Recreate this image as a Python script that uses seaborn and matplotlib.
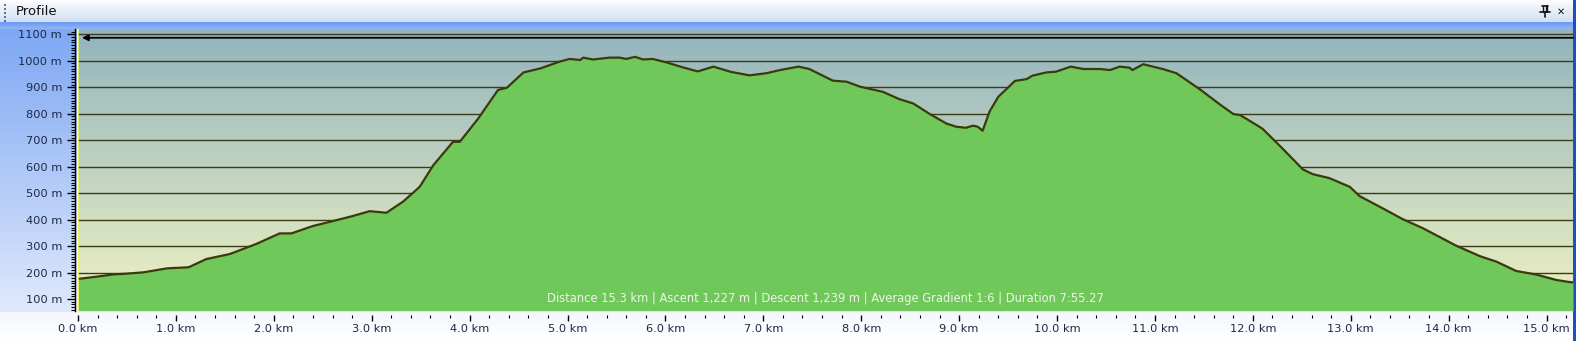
import numpy as np
import pandas as pd
import matplotlib
matplotlib.use('Agg')
import matplotlib.pyplot as plt
import seaborn as sns
from matplotlib.colors import to_rgb
from matplotlib.ticker import MultipleLocator, FixedLocator, FuncFormatter

# ---------------- data ----------------
distance_km = [0.00, 0.20, 0.36, 0.50, 0.67, 0.91, 1.13, 1.31, 1.55, 1.82, 2.06, 2.18,
               2.40, 2.64, 2.81, 2.98, 3.15, 3.32, 3.49, 3.63, 3.83, 3.90, 4.09, 4.29,
               4.38, 4.55, 4.72, 4.92, 5.02, 5.13, 5.16, 5.26, 5.43, 5.53, 5.60, 5.69,
               5.77, 5.87, 6.01, 6.18, 6.33, 6.49, 6.67, 6.86, 7.03, 7.17, 7.36, 7.47,
               7.71, 7.85, 7.99, 8.22, 8.39, 8.53, 8.70, 8.87, 8.97, 9.07, 9.14, 9.19,
               9.24, 9.31, 9.40, 9.57, 9.69, 9.75, 9.89, 9.99, 10.14, 10.27, 10.44, 10.54,
               10.64, 10.74, 10.77, 10.88, 11.08, 11.22, 11.46, 11.66, 11.80, 11.87, 12.04,
               12.10, 12.31, 12.51, 12.61, 12.78, 12.99, 13.09, 13.33, 13.53, 13.74, 14.08,
               14.32, 14.49, 14.69, 14.89, 15.10, 15.22, 15.27]
elevation_m = [176, 185, 193, 196, 201, 216, 220, 251, 270, 308, 348, 348,
               376, 398, 414, 432, 426, 468, 524, 606, 694, 694, 783, 890,
               898, 956, 971, 997, 1007, 1003, 1012, 1005, 1012, 1012, 1007, 1015,
               1005, 1007, 994, 975, 960, 978, 958, 945, 953, 965, 978, 969,
               925, 921, 902, 883, 855, 839, 799, 763, 751, 747, 755, 751,
               736, 808, 864, 924, 931, 944, 956, 959, 978, 969, 969, 965,
               978, 974, 965, 987, 969, 953, 892, 836, 799, 795, 757,
               743, 666, 590, 572, 557, 524, 489, 442, 402, 367, 301,
               262, 241, 206, 193, 172, 165, 163]
y_ticks_m = [100, 200, 300, 400, 500, 600, 700, 800, 900, 1000, 1100]
x_ticks_km = list(range(0, 16))
max_marker_m = 1087
panel_title = "Profile"
summary_text = ("Distance 15.3 km | Ascent 1,227 m | Descent 1,239 m | "
                "Average Gradient 1:6 | Duration 7:55.27")

df = pd.DataFrame({"km": distance_km, "elev": elevation_m})

# ---------------- style ----------------
sns.set_theme(style='white')
plt.rcParams['font.family'] = ['DejaVu Sans']

W, H = 1576, 341
fig = plt.figure(figsize=(W / 100, H / 100), dpi=100)


def grad(c1, c2, n):
    a = np.array(to_rgb(c1))
    b = np.array(to_rgb(c2))
    t = np.linspace(0, 1, n)[:, None]
    return a * (1 - t) + b * t


# window chrome background
bg = np.ones((H, W, 3))
bg[:, :] = to_rgb('#f3f6fc')
bg[0:22, :] = grad('#fbfcfe', '#d3e0f4', 22)[:, None, :]
bg[22:29, :] = grad('#6d9bf0', '#8fb4f6', 7)[:, None, :]
bg[29:312, 0:77] = grad('#7ea7f4', '#dfe9fb', 283)[:, None, :]
bg[312:, :] = grad('#f4f7fd', '#ffffff', H - 312)[:, None, :]
bg[:, 1573:] = to_rgb('#1d4fc4')
bgax = fig.add_axes([0, 0, 1, 1])
bgax.imshow(bg, aspect='auto', extent=(0, W, H, 0), interpolation='nearest')
bgax.set_xlim(0, W)
bgax.set_ylim(H, 0)
bgax.axis('off')

# title bar decorations
bgax.text(16, 11.5, panel_title, fontsize=9.5, ha='left', va='center', color='#111111')
for yy in (4, 8, 12, 16, 20):
    bgax.plot([5, 5], [yy, yy + 1.5], color='#3c5c9c', lw=1.2, solid_capstyle='butt')
bgax.plot([1542, 1548], [6, 6], color='#111', lw=1.2)
bgax.plot([1543, 1543], [6, 12], color='#111', lw=1.0)
bgax.plot([1547, 1547], [6, 12], color='#111', lw=1.6)
bgax.plot([1540, 1550], [12, 12], color='#111', lw=1.2)
bgax.plot([1545, 1545], [12, 17], color='#111', lw=1.2)
bgax.text(1561, 11.5, '\u2715', fontsize=7, fontweight='bold', ha='center', va='center',
          color='#111111')

# ---------------- profile axes ----------------
L, R, T, B = 78, 1573, 29.3, 310.7
ax = fig.add_axes([L / W, (H - B) / H, (R - L) / W, (B - T) / H])
ax.patch.set_alpha(0)

ymin, ymax = 56, 1119
xmin, xmax = 0, 15.27

# plot-area gradient
ax.imshow(grad('#92b4be', '#f0f2c3', 300)[:, None, :], extent=(0, 1, 0, 1),
          transform=ax.transAxes, aspect='auto', zorder=0, interpolation='bilinear')

ax.fill_between(df["km"], df["elev"], ymin, color='#70c85a', lw=0, zorder=2)
sns.lineplot(data=df, x="km", y="elev", ax=ax, color='#3a3a0c', lw=1.6, zorder=3,
             estimator=None, sort=False)

ax.set_xlim(xmin, xmax)
ax.set_ylim(ymin, ymax)

# horizontal grid lines
ax.yaxis.grid(True, which='major', color='#3b3b14', lw=1.0)
ax.xaxis.grid(False)
ax.set_axisbelow(True)

# max-elevation marker arrow
ax.annotate('', xy=(0.04, max_marker_m), xytext=(xmax, max_marker_m),
            arrowprops=dict(arrowstyle='-|>', color='black', lw=1.3, mutation_scale=9,
                            shrinkA=0, shrinkB=0), zorder=4)

# yellow left edge
ax.axvline(xmin, color='#f2f25a', lw=1.2, zorder=5)

# summary text
ax.text(0.5, 0.043, summary_text, transform=ax.transAxes, ha='center', va='center',
        fontsize=8.3, color='#eef4e8', zorder=6)

# axes / ticks
for s in ('top', 'right'):
    ax.spines[s].set_visible(False)
ax.spines['left'].set_position(('outward', 2))
ax.spines['left'].set_color('black')
ax.spines['left'].set_linewidth(1.0)
ax.spines['bottom'].set_position(('outward', 3))
ax.spines['bottom'].set_visible(False)

ax.yaxis.set_major_locator(FixedLocator(y_ticks_m))
ax.yaxis.set_minor_locator(MultipleLocator(10))
ax.yaxis.set_major_formatter(FuncFormatter(lambda v, p: f"{int(v)} m"))
ax.xaxis.set_major_locator(FixedLocator(x_ticks_km))
ax.xaxis.set_minor_locator(MultipleLocator(0.2))
ax.xaxis.set_major_formatter(FuncFormatter(lambda v, p: f"{v:.1f} km"))

ax.tick_params(axis='y', which='major', direction='out', length=5.5, width=1.0,
               color='black', labelsize=8.2, labelcolor='#1c2946', pad=4, left=True)
ax.tick_params(axis='y', which='minor', direction='out', length=3, width=0.8,
               color='black', left=True)
ax.tick_params(axis='x', which='major', direction='out', length=4.5, width=1.0,
               color='black', labelsize=8.2, labelcolor='#1c2946', pad=2, bottom=True)
ax.tick_params(axis='x', which='minor', direction='out', length=2.2, width=0.8,
               color='black', bottom=True)
ax.set_xlabel('')
ax.set_ylabel('')

fig.savefig('out.png', dpi=100)
